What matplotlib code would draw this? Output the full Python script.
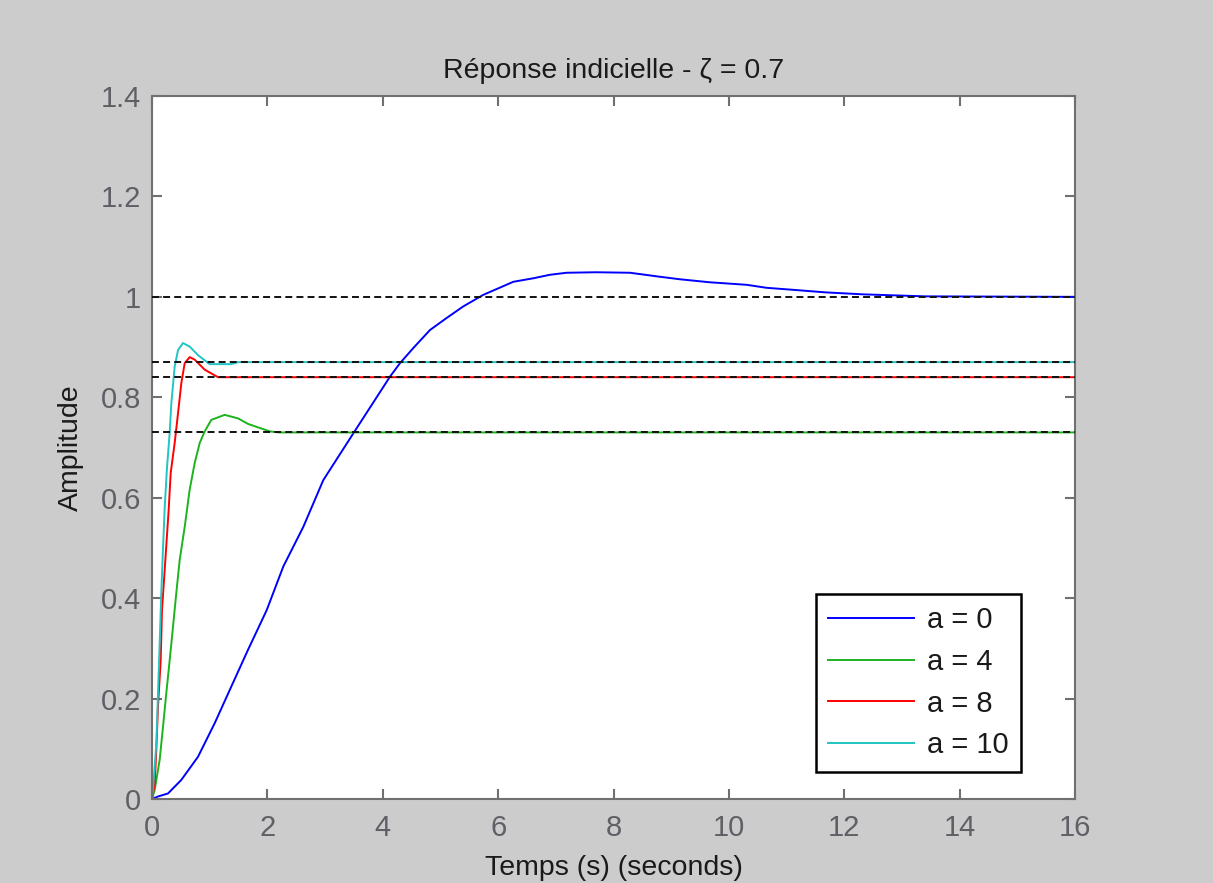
import matplotlib
matplotlib.use("Agg")
import matplotlib.pyplot as plt

plt.rcParams['font.family'] = ['Liberation Sans', 'DejaVu Sans']
plt.rcParams['lines.scale_dashes'] = False

# ---- data ----
t_a0 = [0, 0.104, 0.277, 0.508, 0.797, 1.087, 1.375, 1.664, 1.988, 2.276, 2.623, 2.969,
        3.489, 4.125, 4.299, 4.529, 4.819, 5.108, 5.396, 5.743, 6.263, 6.610, 6.899,
        7.188, 7.7, 8.286, 8.806, 9.152, 9.672, 10.308, 10.655, 11.116, 11.666, 12.330,
        13.399, 16]
y_a0 = [0, 0.005, 0.011, 0.038, 0.084, 0.151, 0.224, 0.297, 0.376, 0.463, 0.542, 0.635,
        0.728, 0.841, 0.868, 0.898, 0.934, 0.958, 0.981, 1.004, 1.030, 1.037, 1.044,
        1.048, 1.049, 1.048, 1.040, 1.035, 1.029, 1.024, 1.018, 1.014, 1.009, 1.005,
        1.001, 1.0]

t_a4 = [0, 0.047, 0.133, 0.191, 0.248, 0.307, 0.364, 0.421, 0.480, 0.567, 0.653, 0.740,
        0.827, 0.913, 1.028, 1.260, 1.491, 1.664, 2.045, 2.2, 16]
y_a4 = [0, 0.018, 0.078, 0.144, 0.211, 0.277, 0.343, 0.410, 0.476, 0.542, 0.616, 0.669,
        0.709, 0.732, 0.755, 0.765, 0.758, 0.747, 0.732, 0.730, 0.730]

t_a8 = [0, 0.047, 0.075, 0.104, 0.151, 0.173, 0.220, 0.289, 0.324, 0.393, 0.451, 0.508,
        0.567, 0.653, 0.740, 0.913, 1.144, 16]
y_a8 = [0, 0.031, 0.098, 0.184, 0.277, 0.376, 0.456, 0.576, 0.649, 0.709, 0.768, 0.828,
        0.868, 0.880, 0.875, 0.855, 0.840, 0.840]

t_a10 = [0, 0.017, 0.075, 0.104, 0.133, 0.161, 0.191, 0.220, 0.260, 0.307, 0.335, 0.393,
         0.451, 0.537, 0.653, 0.797, 1.0, 1.375, 1.49, 16]
y_a10 = [0, 0.018, 0.111, 0.211, 0.310, 0.410, 0.500, 0.580, 0.660, 0.730, 0.788, 0.861,
         0.894, 0.908, 0.901, 0.884, 0.866, 0.866, 0.870, 0.870]

labels = ['a = 0', 'a = 4', 'a = 8', 'a = 10']
colors = ['#0000ff', '#1db31d', '#ff0000', '#22c4c4']
steady_values = [1.0, 0.87, 0.84, 0.73]

x_ticks = [0, 2, 4, 6, 8, 10, 12, 14, 16]
y_ticks = [0, 0.2, 0.4, 0.6, 0.8, 1.0, 1.2, 1.4]
y_tick_labels = ['0', '0.2', '0.4', '0.6', '0.8', '1', '1.2', '1.4']

# ---- figure ----
fig = plt.figure(figsize=(12.13, 8.83), dpi=100, facecolor='#cccccc')
ax = fig.add_axes([152/1213, (883-799)/883, (1075-152)/1213, (799-96)/883])
ax.set_facecolor('white')

series = [(t_a0, y_a0), (t_a4, y_a4), (t_a8, y_a8), (t_a10, y_a10)]
lines = []
for (t, y), c, lab in zip(series, colors, labels):
    ln, = ax.plot(t, y, color=c, lw=1.4, label=lab, zorder=2)
    lines.append(ln)

for v in steady_values:
    ax.axhline(v, color='#111111', lw=1.4, linestyle=(0, (5.0, 3.0)), zorder=3)

ax.set_xlim(0, 16)
ax.set_ylim(0, 1.4)
ax.set_xticks(x_ticks)
ax.set_yticks(y_ticks)
ax.set_yticklabels(y_tick_labels)

spine_col = '#707070'
for s in ax.spines.values():
    s.set_color(spine_col)
    s.set_linewidth(1.5)
ax.tick_params(direction='in', length=7, width=1.5, color=spine_col,
               top=True, right=True, labelsize=21, labelcolor='#5f5f66')
ax.tick_params(axis='x', pad=11)
ax.tick_params(axis='y', pad=8)

ax.set_title('Réponse indicielle - ζ = 0.7', fontsize=20.5, color='#1a1a1a', pad=13)
ax.set_xlabel('Temps (s) (seconds)', fontsize=20.5, color='#1a1a1a', labelpad=9)
ax.set_ylabel('Amplitude', fontsize=20.5, color='#1a1a1a', labelpad=12)

leg = ax.legend(handles=lines, loc='upper left',
                bbox_to_anchor=(816/1213, (883-594)/883), bbox_transform=fig.transFigure,
                fontsize=21, frameon=True, fancybox=False, framealpha=1,
                edgecolor='black', handlelength=2.95, handletextpad=0.45,
                borderpad=0.42, labelspacing=0.47, borderaxespad=0)
leg.get_frame().set_linewidth(1.8)
for txt in leg.get_texts():
    txt.set_color('#1a1a1a')

fig.savefig('out.png', dpi=100, facecolor=fig.get_facecolor())
